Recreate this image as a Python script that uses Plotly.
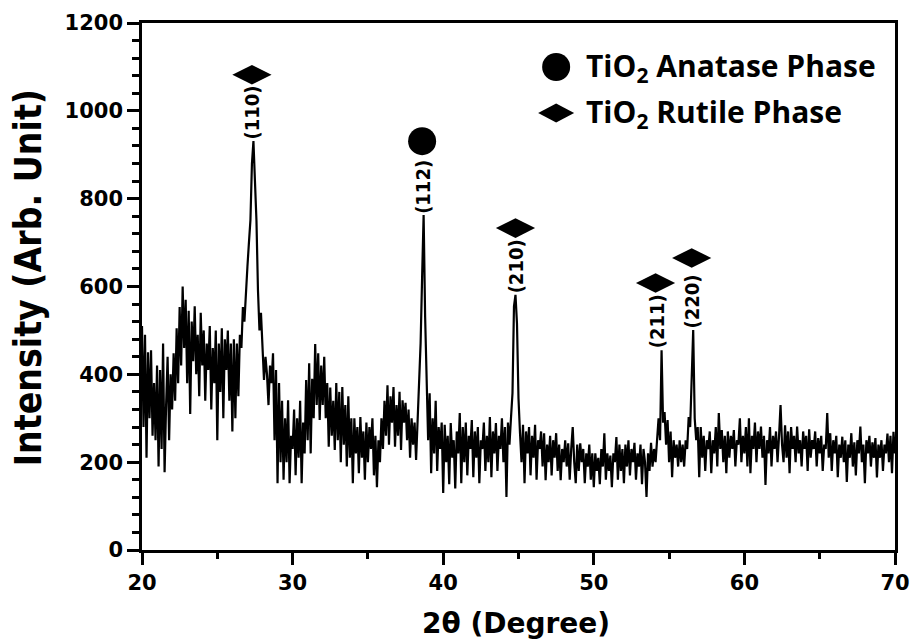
import numpy as np
import plotly.graph_objects as go

# XRD scan, 2θ from 20° to 70° in 0.1° steps
two_theta = np.round(np.linspace(20.0, 70.0, 501), 1)
intensity = [
    510, 280, 490, 210, 450, 300, 455, 260, 380, 250,   # 20°
    420, 190, 410, 230, 470, 177, 330, 440, 250, 400,   # 21°
    320, 448, 340, 505, 380, 553, 420, 600, 460, 570,   # 22°
    380, 545, 310, 520, 430, 555, 400, 490, 350, 540,   # 23°
    420, 500, 340, 470, 410, 510, 320, 460, 380, 500,   # 24°
    250, 470, 360, 505, 300, 480, 410, 500, 340, 470,   # 25°
    270, 480, 300, 470, 350, 490, 460, 553, 520, 600,   # 26°
    645, 700, 751, 880, 931, 840, 750, 592, 500, 540,   # 27°
    448, 387, 440, 400, 330, 420, 380, 448, 250, 410,   # 28°
    152, 380, 200, 340, 160, 300, 200, 341, 152, 260,   # 29°
    230, 320, 170, 300, 210, 340, 152, 290, 220, 387,   # 30°
    250, 425, 220, 390, 300, 469, 330, 448, 296, 420,   # 31°
    330, 440, 300, 380, 235, 370, 260, 340, 228, 380,   # 32°
    250, 360, 200, 371, 240, 330, 190, 350, 210, 300,   # 33°
    152, 300, 220, 280, 175, 303, 210, 270, 160, 290,   # 34°
    200, 280, 230, 300, 170, 260, 143, 250, 200, 300,   # 35°
    230, 340, 260, 375, 240, 350, 290, 371, 235, 330,   # 36°
    260, 360, 228, 341, 290, 335, 250, 320, 210, 300,   # 37°
    240, 290, 205, 300, 360, 471, 622, 763, 531, 364,   # 38°
    250, 357, 175, 300, 220, 340, 180, 280, 230, 290,   # 39°
    130, 285, 200, 260, 150, 289, 210, 250, 140, 270,   # 40°
    220, 312, 152, 280, 200, 290, 170, 260, 230, 296,   # 41°
    166, 270, 210, 280, 152, 250, 230, 290, 180, 260,   # 42°
    200, 303, 166, 270, 220, 289, 180, 260, 230, 300,   # 43°
    200, 280, 121, 290, 240, 300, 357, 555, 581, 515,   # 44°
    345, 266, 200, 285, 152, 270, 220, 280, 170, 260,   # 45°
    210, 285, 160, 250, 230, 270, 190, 266, 159, 240,   # 46°
    200, 260, 170, 250, 210, 266, 180, 240, 159, 230,   # 47°
    200, 250, 190, 243, 160, 230, 280, 200, 152, 240,   # 48°
    180, 243, 200, 230, 152, 220, 190, 240, 160, 220,   # 49°
    143, 220, 180, 210, 150, 230, 190, 266, 160, 220,   # 50°
    180, 215, 143, 220, 200, 257, 160, 240, 180, 230,   # 51°
    152, 240, 190, 250, 170, 230, 200, 244, 160, 220,   # 52°
    190, 240, 150, 230, 200, 121, 220, 180, 244, 190,   # 53°
    230, 200, 260, 300, 250, 455, 290, 314, 240, 296,   # 54°
    200, 270, 166, 250, 210, 240, 190, 250, 200, 240,   # 55°
    190, 250, 230, 303, 280, 410, 501, 300, 250, 280,   # 56°
    166, 280, 210, 260, 180, 250, 230, 270, 175, 250,   # 57°
    220, 280, 190, 312, 230, 273, 200, 260, 175, 270,   # 58°
    210, 260, 230, 273, 190, 250, 240, 300, 200, 260,   # 59°
    220, 280, 190, 300, 175, 260, 230, 290, 200, 270,   # 60°
    230, 281, 210, 260, 148, 250, 220, 280, 190, 260,   # 61°
    230, 270, 200, 260, 330, 240, 200, 284, 210, 270,   # 62°
    175, 280, 230, 260, 200, 281, 220, 250, 190, 270,   # 63°
    230, 260, 180, 275, 210, 250, 230, 270, 190, 255,   # 64°
    220, 260, 180, 240, 230, 312, 210, 266, 180, 250,   # 65°
    220, 260, 166, 240, 210, 258, 200, 250, 155, 240,   # 66°
    210, 266, 190, 245, 170, 250, 220, 281, 200, 240,   # 67°
    152, 250, 220, 260, 190, 245, 210, 255, 165, 240,   # 68°
    210, 250, 180, 240, 220, 265, 200, 260, 175, 269,   # 69°
    220,                                                # 70°
]

# indexed reflections: Miller indices, phase, symbol and label placement
hkl = ["(110)", "(112)", "(210)", "(211)", "(220)"]
phase = ["rutile", "anatase", "rutile", "rutile", "rutile"]
marker_x = [27.3, 38.6, 44.8, 54.1, 56.5]
marker_y = [1082, 931, 733, 608, 665]
label_x = [27.3, 38.7, 44.8, 54.2, 56.5]
label_y = [996, 826, 647, 521, 565]

legend_text = ["TiO<sub>2</sub> Anatase Phase", "TiO<sub>2</sub> Rutile Phase"]

WIDE = "DejaVu Sans, Liberation Sans, sans-serif"
NARROW = "Liberation Sans Narrow, Arial Narrow, DejaVu Sans Condensed, sans-serif"
LEGEND_FONT = "Open Sans, Noto Sans, sans-serif"

fig = go.Figure()
fig.add_trace(go.Scatter(
    x=two_theta, y=intensity, mode="lines",
    line=dict(color="black", width=2.2), showlegend=False, hoverinfo="skip",
))

for ph, sym, size in [("rutile", "diamond-wide", 28), ("anatase", "circle", 28)]:
    xs = [x for x, p in zip(marker_x, phase) if p == ph]
    ys = [y for y, p in zip(marker_y, phase) if p == ph]
    fig.add_trace(go.Scatter(
        x=xs, y=ys, mode="markers",
        marker=dict(symbol=sym, size=size, color="black", line=dict(width=0)),
        showlegend=False, hoverinfo="skip",
    ))

for lx, ly, t in zip(label_x, label_y, hkl):
    fig.add_annotation(
        x=lx, y=ly, text=t, textangle=-90, showarrow=False,
        font=dict(family=NARROW, size=20, color="black", weight="bold"),
        xanchor="center", yanchor="middle",
    )

# legend symbols drawn as pixel-sized shapes anchored in paper coordinates
leg_x = 0.55
leg_y = [0.9165, 0.829]
fig.add_shape(type="circle", xref="paper", yref="paper",
              xsizemode="pixel", ysizemode="pixel",
              xanchor=leg_x, yanchor=leg_y[0],
              x0=-14, x1=14, y0=-14, y1=14,
              fillcolor="black", line=dict(width=0))
fig.add_shape(type="path", xref="paper", yref="paper",
              xsizemode="pixel", ysizemode="pixel",
              xanchor=leg_x, yanchor=leg_y[1],
              path="M -18 0 L 0 9.5 L 18 0 L 0 -9.5 Z",
              fillcolor="black", line=dict(width=0))
for ly, txt in zip(leg_y, legend_text):
    fig.add_annotation(
        xref="paper", yref="paper", x=0.587, y=ly, text=txt,
        showarrow=False, xanchor="left", yanchor="middle",
        font=dict(family=LEGEND_FONT, size=30, color="black", weight="bold"),
    )

# axis titles
fig.add_annotation(
    xref="paper", yref="paper", x=0.497, y=-0.139, text="2θ (Degree)",
    showarrow=False, xanchor="center", yanchor="middle",
    font=dict(family=WIDE, size=28, color="black", weight="bold"),
)
fig.add_annotation(
    xref="paper", yref="paper", x=-0.151, y=0.516, text="Intensity (Arb. Unit)",
    textangle=-90, showarrow=False, xanchor="center", yanchor="middle",
    font=dict(family=NARROW, size=37, color="black", weight="bold"),
)

axis_common = dict(
    showline=True, linecolor="black", linewidth=2.5, mirror=True,
    ticks="outside", ticklen=12, tickwidth=2.5, tickcolor="black",
    showgrid=False, zeroline=False,
    tickfont=dict(family=WIDE, size=21, color="black", weight="bold"),
)
fig.update_xaxes(range=[20, 70], tick0=20, dtick=10,
                 minor=dict(dtick=5, ticklen=6, tickwidth=2.5, tickcolor="black", ticks="outside"),
                 **axis_common)
fig.update_yaxes(range=[0, 1200], tick0=0, dtick=200,
                 minor=dict(dtick=40, ticklen=7, tickwidth=2.5, tickcolor="black", ticks="outside"),
                 **axis_common)

fig.update_layout(
    width=912, height=643,
    margin=dict(l=142, r=17, t=23, b=93, autoexpand=False),
    paper_bgcolor="white", plot_bgcolor="white",
)

fig.write_html("out.html")
